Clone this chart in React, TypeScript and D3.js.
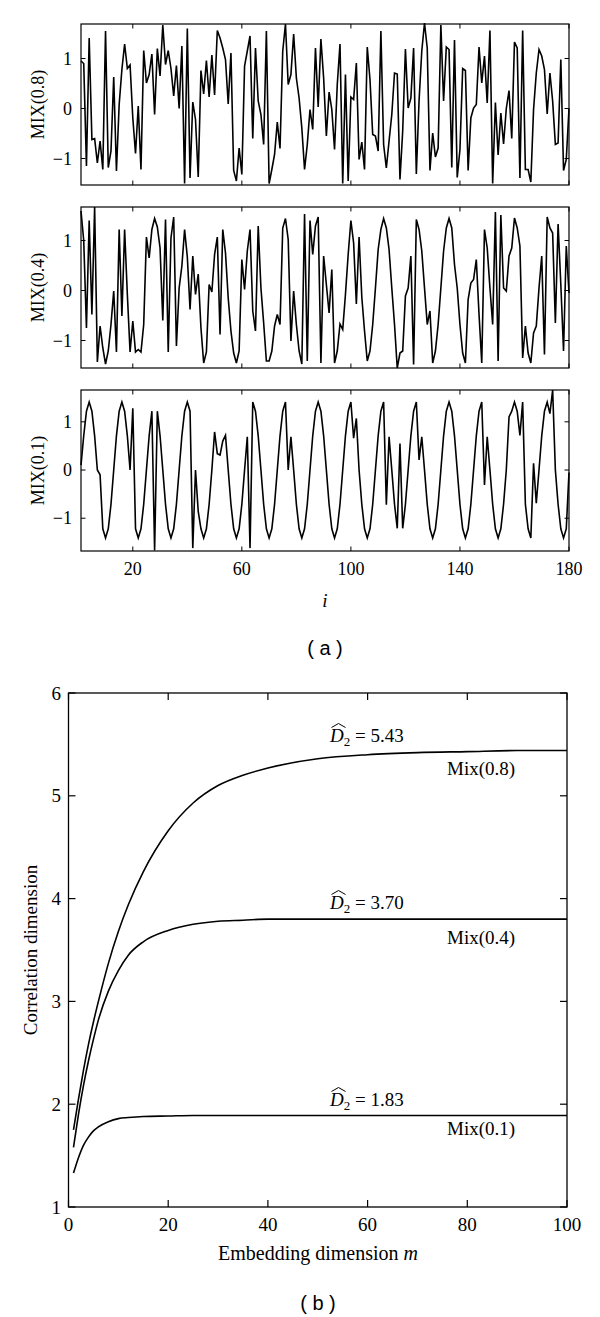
import React from 'react';
import * as d3 from 'd3';

// ---------- Panel (a): MIX time series ----------
const indexI = d3.range(1, 181);

const mix08 = [
  0.95, 0.9, -1.15, 1.41, -0.62, -0.6, -1.09, -0.65, -1.22, 1.55,
  -1.18, -0.85, 0.63, -1.25, 0.08, 0.78, 1.29, 0.8, 0.87, -0.19,
  -0.9, 0.05, -1.22, 1.16, 0.51, 0.68, 1.09, -0.12, 1.2, 0.65,
  1.67, 0.88, 1.16, 0.8, 0.25, 0.86, 0.0, 1.25, -1.5, 1.6,
  -1.39, 0.13, -0.22, -1.37, 0.76, 0.29, 0.96, 0.23, 1.07, 0.27,
  1.56, 1.41, 1.21, 0.98, 0.09, 1.11, -1.24, -1.45, -0.79, -1.32,
  0.85, 1.15, 1.45, -0.6, 1.21, 0.15, -0.12, -0.72, 1.55, -1.5,
  -1.22, -0.92, -0.27, -0.8, 1.15, 1.69, 0.48, 0.68, 1.49, 0.61,
  0.21, -0.39, -1.22, -0.72, -0.02, -0.42, 1.21, 0.03, 1.39, 0.61,
  -0.55, 0.33, -0.02, -0.82, 0.48, 1.29, -1.5, 0.68, -1.45, 0.23,
  0.18, 0.91, -1.02, -0.67, -1.22, 1.23, 0.58, -0.52, -0.55, -0.85,
  1.55, -0.72, -1.19, -0.65, -0.12, 0.71, 0.69, -1.42, -0.45, 1.19,
  0.01, 0.21, 1.21, -1.31, 0.15, 1.15, 1.71, 1.21, -1.24, -0.49,
  -0.97, -0.79, 1.67, 0.15, 1.23, 1.18, -1.18, 1.37, -1.38, -0.82,
  0.8, 0.76, -1.24, -0.19, 0.01, 0.08, 1.23, 0.51, 1.05, 0.11,
  1.56, -1.5, 0.12, -0.93, -0.09, -0.71, 0.0, 0.36, -0.6, 1.33,
  1.21, -1.39, 1.56, -1.22, -1.22, -1.47, -0.02, 0.71, 1.18, 1.05,
  0.78, -0.11, 0.71, 0.15, -0.72, -0.69, 0.98, -1.24, -1.02, 0.0,
];

const mix04 = [
  1.59, 1.0, -0.75, 1.4, -0.48, 1.67, -1.43, -0.71, -1.15, -1.47,
  -1.21, -0.68, -0.01, -1.23, 1.22, -0.51, 1.22, -0.08, -1.23, -0.61,
  -1.23, -1.18, -1.23, -0.68, 1.07, 0.65, 1.22, 1.44, 1.27, 0.85,
  -0.6, 1.42, -1.23, 1.05, 1.47, -1.11, 0.05, 0.49, 1.22, 0.67,
  -0.38, 0.69, -0.08, 0.33, -0.75, -1.45, -1.23, 0.12, -0.03, 0.72,
  1.07, -0.88, 1.22, 0.75, -0.15, -0.81, -1.25, -1.45, -1.21, 0.62,
  0.02, 0.79, 1.22, -0.41, -0.81, 1.29, 0.05, -0.65, -1.41, -1.41,
  -1.21, -0.71, -0.48, -0.68, 1.25, 1.44, 1.02, -1.01, -0.01, -0.68,
  -1.21, -1.47, 1.53, -1.41, 1.4, 0.72, 1.29, 1.47, -1.45, 0.69,
  0.12, -0.45, 0.42, -1.45, -1.21, -0.67, -0.78, -0.08, 0.72, 1.4,
  0.95, -0.27, 1.07, -0.13, -0.81, -1.41, -1.21, -0.68, 0.05, 0.82,
  1.22, 1.44, 1.25, 0.82, 0.05, -0.68, -1.55, -1.25, -1.21, -0.11,
  0.05, 0.69, -1.48, 1.42, 1.22, 0.79, 0.05, -0.68, -0.41, -1.45,
  -1.21, -0.68, 0.05, 0.79, 1.25, 1.44, 1.25, 0.52, 0.05, -0.68,
  -1.25, -1.45, -0.18, 0.15, 0.22, 0.62, -0.48, -1.45, 1.22, 0.85,
  0.05, -0.68, 1.57, -1.41, 1.51, 0.05, -0.01, 0.69, 0.85, 1.45,
  1.25, 0.89, -1.35, -0.71, -1.25, -1.45, -0.85, -0.71, 0.05, 0.69,
  -1.28, 1.47, 1.25, 1.15, -0.65, 1.33, 0.12, -1.21, 0.89, -0.05,
];

const mix01 = [
  0.1, 0.71, 1.22, 1.41, 1.22, 0.71, 0.0, -0.1, -1.22, -1.41,
  -1.22, -0.71, 0.0, 0.71, 1.22, 1.41, 1.22, 0.71, 0.0, 1.28,
  -1.22, -1.41, -1.22, -0.71, 0.0, 0.71, 1.22, -1.67, 1.22, 0.71,
  0.0, -0.71, -1.22, -1.41, -1.22, -0.71, 0.0, 0.71, 1.22, 1.41,
  1.22, -1.62, 0.0, -0.86, -1.22, -1.41, -1.22, -0.71, 0.0, 0.79,
  0.34, 0.31, 0.6, 0.72, 0.0, -0.71, -1.22, -1.41, -1.22, -0.71,
  0.0, 0.69, -1.62, 1.41, 1.22, 0.71, 0.0, -0.71, -1.22, -1.41,
  -1.22, -0.71, 0.0, 0.71, 1.22, 1.41, 0.0, 0.69, 0.0, -0.71,
  -1.22, -1.41, -1.22, -0.71, 0.0, 0.71, 1.22, 1.41, 1.22, 0.71,
  0.0, -0.71, -1.22, -1.41, -1.22, -0.71, 0.0, 0.71, 1.22, 1.41,
  0.66, 1.07, 0.0, -0.71, -1.22, -1.41, -1.22, -0.71, 0.0, 0.71,
  1.22, 1.41, -0.72, 0.69, 0.0, -0.71, -1.21, 0.55, -1.21, -0.71,
  0.0, 0.71, 1.22, 1.41, 0.21, 0.69, 0.0, -0.71, -1.22, -1.41,
  -1.22, -0.71, 0.0, 0.71, 1.22, 1.41, 1.22, 0.71, 0.0, -0.71,
  -1.22, -1.41, -1.22, -0.71, 0.0, 0.71, 1.22, 1.41, -0.31, 0.69,
  0.0, -0.71, -1.22, -1.41, -1.22, -0.71, 0.0, 1.1, 1.22, 1.41,
  1.22, 0.72, 1.41, -0.71, -1.22, -1.41, 0.14, -0.69, 0.0, 0.71,
  1.22, 1.41, 1.17, 1.66, 0.0, -0.71, -1.22, -1.41, -1.22, -0.05,
];

const seriesNames = ['MIX(0.8)', 'MIX(0.4)', 'MIX(0.1)'];
const xTicksA = [20, 60, 100, 140, 180];
const yTicksA = [-1, 0, 1];

// ---------- Panel (b): correlation dimension ----------
const mB = [1, 2, 3, 4, 5, 6, 8, 10, 12, 15, 20, 25, 30, 35, 40, 50, 60, 70, 80, 90, 100];
const cd08 = [1.75, 2.05, 2.33, 2.58, 2.8, 3.0, 3.37, 3.68, 3.94, 4.26, 4.66, 4.93, 5.1, 5.2, 5.27, 5.36, 5.4, 5.42, 5.43, 5.44, 5.44];
const cd04 = [1.58, 1.9, 2.18, 2.42, 2.63, 2.82, 3.1, 3.3, 3.45, 3.58, 3.69, 3.75, 3.78, 3.79, 3.8, 3.8, 3.8, 3.8, 3.8, 3.8, 3.8];
const cd01 = [1.33, 1.48, 1.6, 1.68, 1.74, 1.78, 1.83, 1.86, 1.87, 1.88, 1.885, 1.89, 1.89, 1.89, 1.89, 1.89, 1.89, 1.89, 1.89, 1.89, 1.89];
const curveNames = ['Mix(0.8)', 'Mix(0.4)', 'Mix(0.1)'];
const d2Values = ['5.43', '3.70', '1.83'];
const xTicksB = [0, 20, 40, 60, 80, 100];
const yTicksB = [1, 2, 3, 4, 5, 6];

const SERIF = '"Liberation Serif", "Times New Roman", serif';
const SANS = '"Liberation Sans", Arial, sans-serif';

export default function App() {
  // Panel (a) geometry
  const xA = d3.scaleLinear().domain([1, 180]).range([81, 569]);
  const panels = [
    { data: mix08, name: seriesNames[0], top: 24, bottom: 185, dom: [-1.53, 1.69] },
    { data: mix04, name: seriesNames[1], top: 207, bottom: 368, dom: [-1.55, 1.67] },
    { data: mix01, name: seriesNames[2], top: 390, bottom: 551, dom: [-1.68, 1.66] },
  ];
  const tA = 4.5;

  // Panel (b) geometry
  const xB = d3.scaleLinear().domain([0, 100]).range([68.5, 567]);
  const yB = d3.scaleLinear().domain([1, 6]).range([1207, 693]);
  const lineB = d3
    .line<[number, number]>()
    .x((d) => xB(d[0]))
    .y((d) => yB(d[1]))
    .curve(d3.curveMonotoneX);
  const curves = [cd08, cd04, cd01];
  const labelPos = [
    { d2y: 736, mixy: 768 },
    { d2y: 903, mixy: 937 },
    { d2y: 1100, mixy: 1128 },
  ];
  const tB = 7;

  return (
    <svg
      width={600}
      height={1317}
      style={{ position: 'absolute', left: 0, top: 0, background: '#fff' }}
      fontFamily={SERIF}
    >
      <rect x={0} y={0} width={600} height={1317} fill="#fff" />
      {panels.map((p, k) => {
        const y = d3.scaleLinear().domain(p.dom).range([p.bottom, p.top]);
        const line = d3
          .line<number>()
          .x((_, i) => xA(indexI[i]))
          .y((d) => y(d));
        const midY = (p.top + p.bottom) / 2;
        return (
          <g key={k}>
            <path d={line(p.data) || ''} fill="none" stroke="#000" strokeWidth={1.6} strokeLinejoin="miter" />
            <rect x={81} y={p.top} width={488} height={p.bottom - p.top} fill="none" stroke="#000" strokeWidth={1.2} />
            {yTicksA.map((t) => (
              <g key={t}>
                <line x1={81} x2={81 + tA} y1={y(t)} y2={y(t)} stroke="#000" />
                <line x1={569} x2={569 - tA} y1={y(t)} y2={y(t)} stroke="#000" />
                <text x={72} y={y(t)} textAnchor="end" dominantBaseline="central" fontSize={18}>
                  {t < 0 ? '\u2212' + Math.abs(t) : t}
                </text>
              </g>
            ))}
            {xTicksA.map((t) => (
              <g key={t}>
                <line x1={xA(t)} x2={xA(t)} y1={p.bottom} y2={p.bottom - tA} stroke="#000" />
                <line x1={xA(t)} x2={xA(t)} y1={p.top} y2={p.top + tA} stroke="#000" />
              </g>
            ))}
            <text
              transform={`translate(38,${midY}) rotate(-90)`}
              textAnchor="middle"
              dominantBaseline="central"
              fontSize={18}
            >
              {p.name}
            </text>
          </g>
        );
      })}
      {xTicksA.map((t) => (
        <text key={t} x={xA(t)} y={569} textAnchor="middle" dominantBaseline="central" fontSize={18}>
          {t}
        </text>
      ))}
      <text x={325} y={600} textAnchor="middle" dominantBaseline="central" fontSize={19} fontStyle="italic">
        i
      </text>
      <text x={325} y={648} textAnchor="middle" dominantBaseline="central" fontSize={20} fontFamily={SANS}>
        ( a )
      </text>

      {/* Panel (b) */}
      {curves.map((c, k) => (
        <path
          key={k}
          d={lineB(mB.map((m, i) => [m, c[i]] as [number, number])) || ''}
          fill="none"
          stroke="#000"
          strokeWidth={1.6}
        />
      ))}
      <rect x={68.5} y={693} width={567 - 68.5} height={1207 - 693} fill="none" stroke="#000" strokeWidth={1.3} />
      {yTicksB.map((t) => (
        <g key={t}>
          <line x1={68.5} x2={68.5 + tB} y1={yB(t)} y2={yB(t)} stroke="#000" strokeWidth={1.2} />
          <line x1={567} x2={567 - tB} y1={yB(t)} y2={yB(t)} stroke="#000" strokeWidth={1.2} />
          <text x={61} y={yB(t)} textAnchor="end" dominantBaseline="central" fontSize={19}>
            {t}
          </text>
        </g>
      ))}
      {xTicksB.map((t) => (
        <g key={t}>
          <line x1={xB(t)} x2={xB(t)} y1={1207} y2={1207 - tB} stroke="#000" strokeWidth={1.2} />
          <line x1={xB(t)} x2={xB(t)} y1={693} y2={693 + tB} stroke="#000" strokeWidth={1.2} />
          <text x={xB(t)} y={1224} textAnchor="middle" dominantBaseline="central" fontSize={19}>
            {t}
          </text>
        </g>
      ))}
      {labelPos.map((lp, k) => (
        <g key={k}>
          <g transform={`translate(330,${lp.d2y + 6})`}>
            <path d="M1.5,-14.5 L8.5,-18.5 L15.5,-14.5" fill="none" stroke="#000" strokeWidth={1} />
            <text x={0} y={0} fontSize={19}>
              <tspan fontStyle="italic">D</tspan>
              <tspan dy={4} fontSize={13}>2</tspan>
              <tspan dy={-4}>{' = ' + d2Values[k]}</tspan>
            </text>
          </g>
          <text x={447} y={lp.mixy} dominantBaseline="central" fontSize={19}>
            {curveNames[k]}
          </text>
        </g>
      ))}
      <text
        transform="translate(30,950) rotate(-90)"
        textAnchor="middle"
        dominantBaseline="central"
        fontSize={19}
      >
        Correlation dimension
      </text>
      <text x={318} y={1253} textAnchor="middle" dominantBaseline="central" fontSize={20}>
        Embedding dimension <tspan fontStyle="italic">m</tspan>
      </text>
      <text x={318} y={1303} textAnchor="middle" dominantBaseline="central" fontSize={20} fontFamily={SANS}>
        ( b )
      </text>
    </svg>
  );
}
